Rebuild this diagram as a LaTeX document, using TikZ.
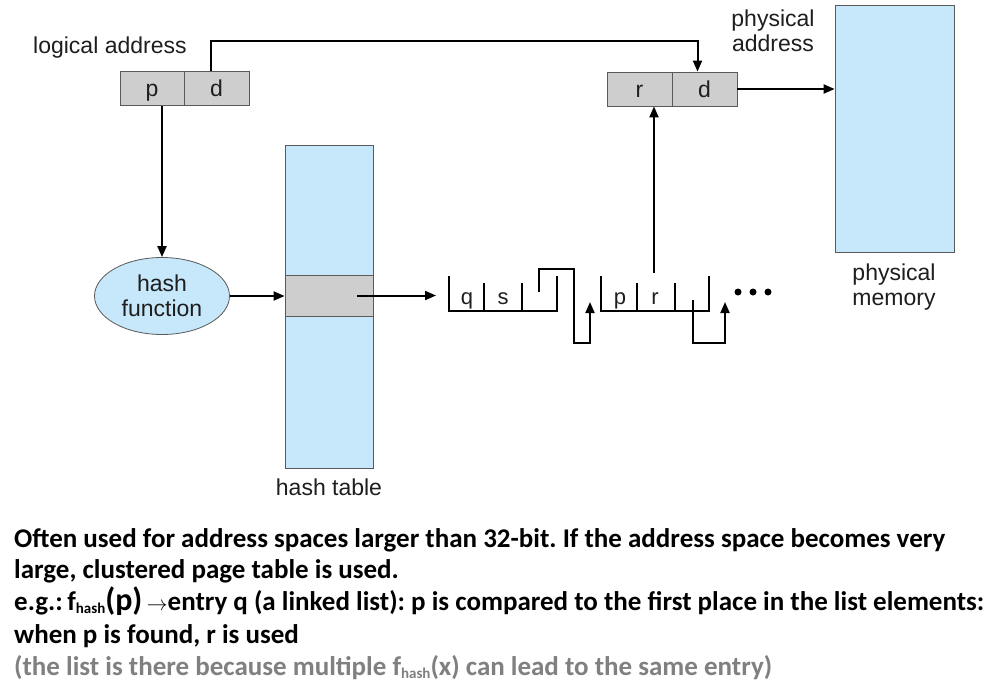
\documentclass[tikz,border=0pt]{standalone}
\usepackage{fontspec}
\setmainfont{Liberation Sans}
\newfontfamily\notefont{Carlito}
\usetikzlibrary{arrows.meta,shapes.geometric,calc}
\definecolor{lblue}{RGB}{198,232,250}
\definecolor{cellgray}{RGB}{206,206,206}
\definecolor{edgegray}{RGB}{90,90,90}
\definecolor{notegray}{RGB}{128,128,128}
\definecolor{inkc}{RGB}{30,30,30}
\begin{document}
\begin{tikzpicture}[x=1pt,y=-1pt,
  lbl/.style={font=\fontsize{23}{25}\selectfont,text=inkc,inner sep=0pt,align=center},
  small/.style={font=\fontsize{22}{24}\selectfont,text=inkc,inner sep=0pt,text height=16pt,text depth=5pt},
  cell/.style={draw=edgegray,line width=0.8pt,fill=cellgray,minimum width=65pt,minimum height=34pt,inner sep=0pt,font=\fontsize{23}{25}\selectfont,text=inkc,text height=21pt,text depth=5pt},
  bluebox/.style={draw=edgegray,line width=0.8pt,fill=lblue,inner sep=0pt},
  conn/.style={draw=black,line width=2pt,-{Triangle[length=11pt,width=9pt]}},
  listline/.style={draw=black,line width=2pt},
  note/.style={font=\notefont\bfseries\fontsize{27}{32}\selectfont\frenchspacing,inner sep=0pt,anchor=base west},
  dot/.style={circle,fill=black,inner sep=0pt,minimum size=7pt}
]
\useasboundingbox (0,0) rectangle (996,691);
\fill[white] (0,0) rectangle (996,691);

% logical address
\node[lbl,anchor=base west] (lalabel) at (33,53) {logical address};
\node[cell,minimum width=64pt] (p) at (152,88.5) {p};
\node[cell] (d) at (216.5,88.5) {d};

% physical address
\node[lbl] (palabel) at (773,31) {physical\\address};
\node[cell] (r) at (639.5,89) {r};
\node[cell] (d2) at (704.5,89) {d};

% physical memory
\node[bluebox,minimum width=119pt,minimum height=247pt] (mem) at (894.5,128.5) {};
\node[lbl] (memlabel) at (894,287) {physical\\memory};

% hash function
\node[bluebox,ellipse,minimum width=135pt,minimum height=77pt,lbl,draw=edgegray] (hash) at (162,296) {hash\\function};

% hash table
\node[bluebox,minimum width=88pt,minimum height=323pt] (htab) at (329,306.5) {};
\node[bluebox,fill=cellgray,minimum width=88pt,minimum height=41pt] (row) at (329,295.5) {};
\node[lbl,anchor=base] (htlabel) at (329,495) {hash table};

% connectors
\draw[conn] ([xshift=-6pt]d.north) -- ++(0,-30) -| ([xshift=-7pt]d2.north);
\draw[conn] (d2.east) -- (d2.east -| mem.west);
\draw[conn] (p.south -| hash.north) -- (hash.north);
\draw[conn] (hash.east) -- (hash.east -| htab.west);
\coordinate (l1) at (436,295.5);
\draw[conn] ([xshift=-16pt]row.east) -- (l1);

% linked list element 1
\draw[listline] (449,276) -- (449,311) -- (557,311) -- (557,276);
\draw[listline] (484,283) -- (484,311);
\draw[listline] (522,283) -- (522,311);
\node[small] (q) at (467,299) {q};
\node[small] (s) at (503,299) {s};
\coordinate (n1) at (539,292);
\coordinate (e2) at (590,302);
\draw[conn] (n1) -- (539,269) -- (574,269) -- (574,343) -- (590,343) -- (e2);

% linked list element 2
\draw[listline] (601,276) -- (601,311) -- (709,311) -- (709,276);
\draw[listline] (637,283) -- (637,311);
\draw[listline] (675,283) -- (675,311);
\node[small] (pp) at (620,299) {p};
\node[small] (rr) at (655,299) {r};
\coordinate (n2) at (693,300);
\coordinate (e3) at (725,302);
\draw[conn] (n2) -- (693,343) -- (725,343) -- (e3);
\coordinate (rsrc) at (654,273);
\draw[conn] (rsrc) -- (rsrc |- r.south);

\node[dot] (dot1) at (738,292) {};
\node[dot] (dot2) at (753,292) {};
\node[dot] (dot3) at (768,292) {};

% note text
\node[note] (t1) at (14,547) {Often used for address spaces larger than 32-bit. If the address space becomes very};
\node[note] (t2) at (14,578) {large, clustered page table is used.};
\node[note] (t3) at (14,610) {e.g.:\,f{\fontsize{15}{16}\selectfont\raisebox{-3pt}{hash}}{\fontsize{32}{32}\selectfont(p)}\,{\fontsize{22}{24}\selectfont$\rightarrow$}entry q (a linked list): p is compared to the first place in the list elements:};
\node[note] (t4) at (14,643) {when p is found, r is used};
\node[note,text=notegray] (t5) at (14,675) {(the list is there because multiple f{\fontsize{15}{16}\selectfont\raisebox{-3pt}{hash}}(x) can lead to the same entry)};
\end{tikzpicture}
\end{document}
